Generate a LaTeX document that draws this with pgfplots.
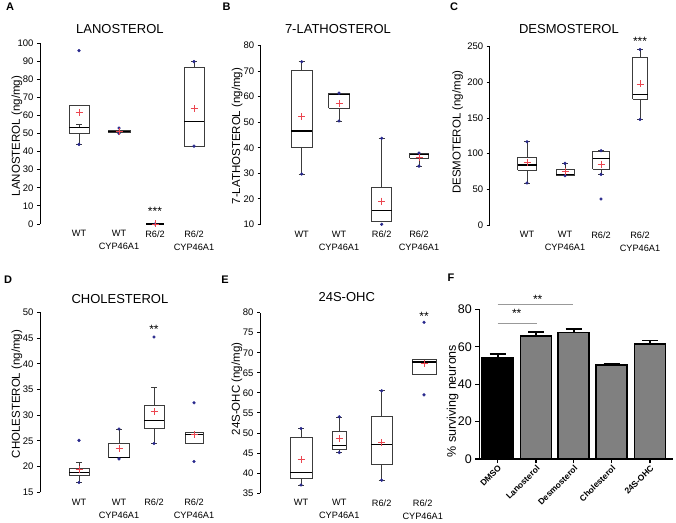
\documentclass[border=0pt]{standalone}
\usepackage{pgfplots}
\pgfplotsset{compat=1.18}
\usepackage{fontspec}
\setmainfont{Liberation Sans}
\definecolor{ptblue}{RGB}{40,40,140}
\definecolor{meanred}{RGB}{235,70,80}
\definecolor{boxgray}{RGB}{60,60,60}
\definecolor{bargray}{RGB}{128,128,128}
\tikzset{sigstar/.style={font=\fontsize{12}{12}\selectfont}}
\pgfplotsset{
  boxax/.style={
    scale only axis, clip=false, anchor=south west,
    axis lines*=left, unbounded coords=jump,
    x axis line style={draw=none},
    y axis line style={line width=0.8pt, black},
    xtick style={draw=none},
    ytick style={line width=0.8pt, black},
    tick align=outside, major tick length=3pt,
    ytick pos=left,
    /pgf/number format/assume math mode=true,
    tick label style={font=\fontsize{9.5}{11}\selectfont},
    x tick label style={align=center, font=\fontsize{9.2}{13}\selectfont},
    xticklabels={WT, {WT\\CYP46A1}, R6/2, {R6/2\\CYP46A1}},
    title style={font=\fontsize{13}{14}\selectfont, anchor=center, yshift=0pt},
    ylabel style={font=\fontsize{11.5}{13}\selectfont, anchor=center},
    enlargelimits=false,
  },
  bxl/.style={draw=boxgray, line width=0.7pt, no marks},
  mdl/.style={draw=black, line width=1.3pt, no marks},
  pts/.style={only marks, mark=*, mark size=1.4pt, color=ptblue},
  mn/.style={only marks, mark=+, mark size=3.5pt, color=meanred, mark options={line width=0.6pt}},
}
\begin{document}
\begin{tikzpicture}
\path[use as bounding box] (0pt,0pt) rectangle (676pt,522pt);
% ---------------- A
\begin{axis}[boxax, at={(40pt,298pt)}, width=180pt, height=181pt,
  xmin=40, xmax=220, ymin=0, ymax=100, ytick={0,10,...,100}, xtick={79,119,155,194},
  title={LANOSTEROL}, title style={at={(axis description cs:0.444,1.044)}},
  ylabel={LANOSTEROL (ng/mg)}, ylabel style={at={(axis description cs:-0.128,0.486)}}]
% boxes
\addplot[bxl] coordinates {(69,50) (89,50) (89,65.5) (69,65.5) (69,50)};
\addplot[bxl] coordinates {(108,50.5) (130,50.5) (130,52) (108,52) (108,50.5)};
\addplot[bxl] coordinates {(184,43) (204,43) (204,86.7) (184,86.7) (184,43)};
% whiskers
\addplot[bxl] coordinates {(79,53.5) (79,55) (79,nan) (76,55) (82,55) (82,nan) (79,50) (79,44) (79,nan) (76,44) (82,44)};
\addplot[bxl] coordinates {(194,86.7) (194,89.7) (194,nan) (191,89.7) (197,89.7)};
% medians
\addplot[mdl] coordinates {(69,53.5) (89,53.5)};
\addplot[mdl] coordinates {(108,51) (130,51)};
\addplot[mdl] coordinates {(146,0) (164,0)};
\addplot[mdl] coordinates {(184,56.7) (204,56.7)};
\addplot[pts] coordinates {(79,95.8) (79,44) (119,53) (119,50) (155,0) (194,89.7) (194,43)};
\addplot[mn] coordinates {(79,61.7) (119,51) (155,0) (194,63.7)};
\node[sigstar] at (axis cs:155,7.2) {***};
\end{axis}
% ---------------- B
\begin{axis}[boxax, at={(260.7pt,297.7pt)}, width=179.3pt, height=178.6pt,
  xmin=260.7, xmax=440, ymin=10, ymax=80, ytick={10,20,...,80}, xtick={301.7,339,381.7,419},
  title={7-LATHOSTEROL}, title style={at={(axis description cs:0.431,1.060)}},
  ylabel={7-LATHOSTEROL (ng/mg)}, ylabel style={at={(axis description cs:-0.132,0.494)}}]
\addplot[bxl] coordinates {(291.35,40.3) (312.05,40.3) (312.05,70.2) (291.35,70.2) (291.35,40.3)};
\addplot[bxl] coordinates {(328.5,55.4) (349.5,55.4) (349.5,61.3) (328.5,61.3) (328.5,55.4)};
\addplot[bxl] coordinates {(371.7,11) (391.7,11) (391.7,24.6) (371.7,24.6) (371.7,11)};
\addplot[bxl] coordinates {(409.5,35.8) (428.5,35.8) (428.5,37.8) (409.5,37.8) (409.5,35.8)};
\addplot[bxl] coordinates {(301.7,70.2) (301.7,73.7) (301.7,nan) (298.7,73.7) (304.7,73.7) (304.7,nan) (301.7,40.3) (301.7,29.7) (301.7,nan) (298.7,29.7) (304.7,29.7)};
\addplot[bxl] coordinates {(339,55.4) (339,50.5) (339,nan) (336,50.5) (342,50.5)};
\addplot[bxl] coordinates {(381.7,24.6) (381.7,43.7) (381.7,nan) (378.7,43.7) (384.7,43.7)};
\addplot[bxl] coordinates {(419,35.8) (419,32.8) (419,nan) (416,32.8) (422,32.8)};
\addplot[mdl] coordinates {(291.35,46.6) (312.05,46.6)};
\addplot[mdl] coordinates {(328.5,60.8) (349.5,60.8)};
\addplot[mdl] coordinates {(371.7,15.4) (391.7,15.4)};
\addplot[mdl] coordinates {(409.5,37.3) (428.5,37.3)};
\addplot[pts] coordinates {(301.7,73.7) (301.7,29.7) (339,61.4) (339,50.5) (381.7,43.7) (381.7,10) (419,37.9) (419,32.8)};
\addplot[mn] coordinates {(301.7,52.2) (339,57.4) (381.7,19.1) (419,36.2)};
\end{axis}
% ---------------- C
\begin{axis}[boxax, at={(489.7pt,297pt)}, width=175.3pt, height=178.3pt,
  xmin=489.7, xmax=665, ymin=0, ymax=250, ytick={0,50,...,250}, xtick={527,565,601,640},
  title={DESMOSTEROL}, title style={at={(axis description cs:0.452,1.066)}},
  ylabel={DESMOTEROL (ng/mg)}, ylabel style={at={(axis description cs:-0.183,0.52)}}]
\addplot[bxl] coordinates {(517.5,77.1) (536.5,77.1) (536.5,94.9) (517.5,94.9) (517.5,77.1)};
\addplot[bxl] coordinates {(556,70.1) (574,70.1) (574,78) (556,78) (556,70.1)};
\addplot[bxl] coordinates {(592.5,78) (609.5,78) (609.5,102.8) (592.5,102.8) (592.5,78)};
\addplot[bxl] coordinates {(632.5,176.2) (647.5,176.2) (647.5,235) (632.5,235) (632.5,176.2)};
\addplot[bxl] coordinates {(527,94.9) (527,116.8) (527,nan) (524,116.8) (530,116.8) (530,nan) (527,77.1) (527,58.9) (527,nan) (524,58.9) (530,58.9)};
\addplot[bxl] coordinates {(565,78) (565,86.4) (565,nan) (562,86.4) (568,86.4)};
\addplot[bxl] coordinates {(601,102.8) (601,104.2) (601,nan) (598,104.2) (604,104.2) (604,nan) (601,78) (601,71) (601,nan) (598,71) (604,71)};
\addplot[bxl] coordinates {(640,235) (640,246) (640,nan) (637,246) (643,246) (643,nan) (640,176.2) (640,148) (640,nan) (637,148) (643,148)};
\addplot[mdl] coordinates {(517.5,84.1) (536.5,84.1)};
\addplot[mdl] coordinates {(556,71) (574,71)};
\addplot[mdl] coordinates {(592.5,93.5) (609.5,93.5)};
\addplot[mdl] coordinates {(632.5,183.2) (647.5,183.2)};
\addplot[pts] coordinates {(527,116.8) (527,58.9) (565,86.4) (565,69.2) (601,104.2) (601,71) (601,36.4) (640,246) (640,148)};
\addplot[mn] coordinates {(527,87.9) (565,75.7) (601,85.5) (640,197.7)};
\node[sigstar] at (axis cs:640,257) {***};
\end{axis}
% ---------------- D
\begin{axis}[boxax, at={(40pt,29.7pt)}, width=180pt, height=180pt,
  xmin=40, xmax=220, ymin=15, ymax=50, ytick={15,20,...,50}, xtick={79,119,154,194},
  title={CHOLESTEROL}, title style={at={(axis description cs:0.444,1.042)}},
  ylabel={CHOLESTEROL (ng/mg)}, ylabel style={at={(axis description cs:-0.128,0.546)}}]
\addplot[bxl] coordinates {(69,18.2) (89,18.2) (89,19.7) (69,19.7) (69,18.2)};
\addplot[bxl] coordinates {(108.5,21.7) (129.5,21.7) (129.5,24.5) (108.5,24.5) (108.5,21.7)};
\addplot[bxl] coordinates {(144,27.5) (164,27.5) (164,31.9) (144,31.9) (144,27.5)};
\addplot[bxl] coordinates {(185,24.5) (203,24.5) (203,26.7) (185,26.7) (185,24.5)};
\addplot[bxl] coordinates {(79,19.7) (79,20.8) (79,nan) (76,20.8) (82,20.8) (82,nan) (79,18.2) (79,16.9) (79,nan) (76,16.9) (82,16.9)};
\addplot[bxl] coordinates {(119,24.5) (119,27.3) (119,nan) (116,27.3) (122,27.3)};
\addplot[bxl] coordinates {(154,31.9) (154,35.4) (154,nan) (151,35.4) (157,35.4) (157,nan) (154,27.5) (154,24.5) (154,nan) (151,24.5) (157,24.5)};
\addplot[mdl] coordinates {(69,18.9) (89,18.9)};
\addplot[mdl] coordinates {(108.5,21.8) (129.5,21.8)};
\addplot[mdl] coordinates {(144,29) (164,29)};
\addplot[mdl] coordinates {(185,26.2) (203,26.2)};
\addplot[pts] coordinates {(79,25.1) (79,16.9) (119,27.3) (119,21.5) (154,45.2) (154,24.5) (194,32.4) (194,21)};
\addplot[mn] coordinates {(79,19.5) (119,23.6) (154,30.7) (194,26.2)};
\node[sigstar] at (axis cs:154,46.6) {**};
\end{axis}
% ---------------- E
\begin{axis}[boxax, at={(260pt,29pt)}, width=180pt, height=180.3pt,
  xmin=260, xmax=440, ymin=35, ymax=80, ytick={35,40,...,80}, xtick={301,339.3,381.7,422.7},
  title={24S-OHC}, title style={at={(axis description cs:0.482,1.054)}},
  ylabel={24S-OHC (ng/mg)}, ylabel style={at={(axis description cs:-0.129,0.577)}}]
\addplot[bxl] coordinates {(290.15,38.7) (311.85,38.7) (311.85,48.8) (290.15,48.8) (290.15,38.7)};
\addplot[bxl] coordinates {(332.3,45.9) (346.3,45.9) (346.3,50.3) (332.3,50.3) (332.3,45.9)};
\addplot[bxl] coordinates {(371.2,42.1) (392.2,42.1) (392.2,54.1) (371.2,54.1) (371.2,42.1)};
\addplot[bxl] coordinates {(412,64.6) (436,64.6) (436,68.4) (412,68.4) (412,64.6)};
\addplot[bxl] coordinates {(301,48.8) (301,51.1) (301,nan) (298,51.1) (304,51.1) (304,nan) (301,38.7) (301,37) (301,nan) (298,37) (304,37)};
\addplot[bxl] coordinates {(339.3,50.3) (339.3,54) (339.3,nan) (336.3,54) (342.3,54) (342.3,nan) (339.3,45.9) (339.3,45.1) (339.3,nan) (336.3,45.1) (342.3,45.1)};
\addplot[bxl] coordinates {(381.7,54.1) (381.7,60.5) (381.7,nan) (378.7,60.5) (384.7,60.5) (384.7,nan) (381.7,42.1) (381.7,38.2) (381.7,nan) (378.7,38.2) (384.7,38.2)};
\addplot[mdl] coordinates {(290.15,40.2) (311.85,40.2)};
\addplot[mdl] coordinates {(332.3,46.8) (346.3,46.8)};
\addplot[mdl] coordinates {(371.2,47.1) (392.2,47.1)};
\addplot[mdl] coordinates {(412,67.7) (436,67.7)};
\addplot[pts] coordinates {(301,51.1) (301,37) (339.3,54) (339.3,45.1) (381.7,60.5) (381.7,38.2) (424,77.6) (424,59.5)};
\addplot[mn] coordinates {(301,43.4) (339.3,48.6) (381.7,47.6) (424,67.3)};
\node[sigstar] at (axis cs:424,79) {**};
\end{axis}
% ---------------- F
\begin{axis}[scale only axis, clip=false, anchor=south west, at={(479.3pt,63pt)},
  width=193.4pt, height=149.7pt, xmin=479.3, xmax=672.7, ymin=0, ymax=80,
  enlargelimits=false, axis lines*=left, axis line style={line width=1.5pt, black},
  tick style={line width=1.2pt, black}, tick align=outside, major tick length=4pt,
  ytick={0,20,...,80}, xtick={497.7,536,573.7,611.7,650},
  xticklabels={DMSO,Lanosterol,Desmosterol,Cholesterol,24S-OHC},
  x tick label style={rotate=45, anchor=north east, inner sep=1pt, font=\bfseries\fontsize{8.5}{9}\selectfont},
  y tick label style={font=\fontsize{12.5}{14}\selectfont},
  /pgf/number format/assume math mode=true,
  ylabel={\% surviving neurons}, ylabel style={font=\fontsize{12.5}{14}\selectfont, anchor=center, at={(axis description cs:-0.138,0.387)}}]
\addplot[ybar, bar width=31, bar shift=0pt, fill=black, draw=black, line width=1.6pt,
  error bars/.cd, y dir=plus, y explicit, error bar style={line width=1.6pt, black},
  error mark options={rotate=90, mark size=8pt, line width=1.6pt, black}]
  coordinates {(497.7,54.3) +- (0,1.8)};
\addplot[ybar, bar width=31, bar shift=0pt, fill=bargray, draw=black, line width=1.6pt,
  error bars/.cd, y dir=plus, y explicit, error bar style={line width=1.6pt, black},
  error mark options={rotate=90, mark size=8pt, line width=1.6pt, black}]
  coordinates {(536,65.7) +- (0,2.1) (573.7,67.6) +- (0,1.9) (611.7,50.2) +- (0,0.8) (650,61.6) +- (0,1.7)};
\draw[gray!80, line width=1pt] (axis cs:497.7,72.3) -- (axis cs:536.7,72.3);
\draw[gray!80, line width=1pt] (axis cs:497.7,82.7) -- (axis cs:572.7,82.7);
\node[sigstar] at (axis cs:516.7,77.9) {**};
\node[sigstar] at (axis cs:537.7,85.4) {**};
\end{axis}
% panel letters
\node[font=\bfseries\fontsize{11}{12}\selectfont] at (10pt,515pt) {A};
\node[font=\bfseries\fontsize{11}{12}\selectfont] at (226.7pt,515pt) {B};
\node[font=\bfseries\fontsize{11}{12}\selectfont] at (454pt,515pt) {C};
\node[font=\bfseries\fontsize{11}{12}\selectfont] at (8pt,242pt) {D};
\node[font=\bfseries\fontsize{11}{12}\selectfont] at (225pt,242pt) {E};
\node[font=\bfseries\fontsize{11}{12}\selectfont] at (451pt,244pt) {F};
\end{tikzpicture}
\end{document}
